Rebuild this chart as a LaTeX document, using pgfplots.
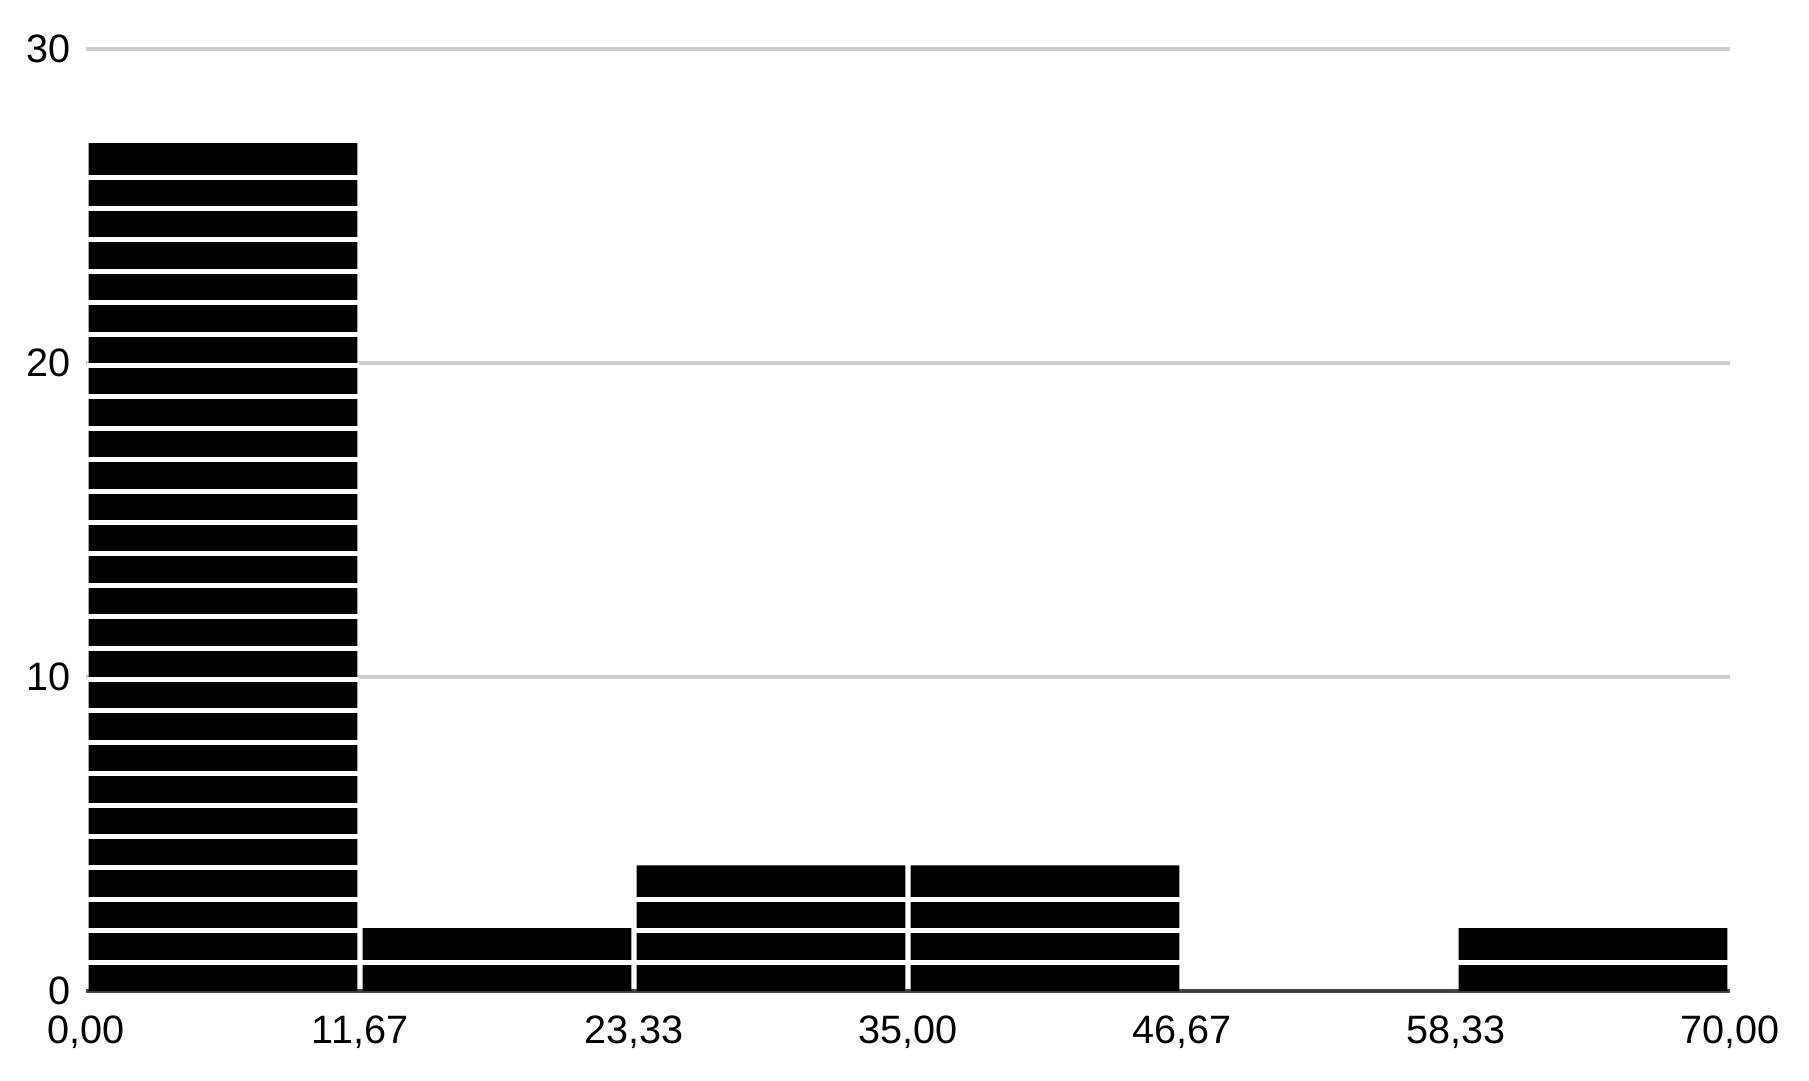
\documentclass[border=0pt]{standalone}
\usepackage{pgfplots}
\pgfplotsset{compat=1.18}
\usepackage{fontspec}
\setmainfont{Liberation Sans}
\definecolor{gridgray}{RGB}{204,204,204}
\definecolor{basegray}{RGB}{68,68,68}

\begin{document}
\begin{tikzpicture}
	\begin{axis}[
		scale only axis,
		width=411pt, height=235.5pt,
		xmin=0, xmax=70, ymin=0, ymax=30,
		axis line style={draw=none},
		major tick length=0pt,
		ytick={10,20,30},
		extra y ticks={0},
		extra y tick style={grid style={basegray, line width=1pt}},
		ymajorgrids,
		grid style={gridgray, line width=0.9pt},
		xtick={0,11.667,23.333,35,46.667,58.333,70},
		xticklabels={{0,00},{11,67},{23,33},{35,00},{46,67},{58,33},{70,00}},
		tick label style={font=\fontsize{9.9}{12}\selectfont},
		/pgf/number format/assume math mode=true,
		yticklabel style={xshift=-0.3pt},
		xticklabel style={yshift=-2.8pt},
		clip=false,
	]
	% histogram counts, one bar per bin (bin centres)
	\addplot[ybar, bar width=11.45, bar shift=0pt, fill=black, draw=none] coordinates
		{(5.833,27) (17.5,2) (29.167,4) (40.833,4) (52.5,0) (64.167,2)};
	% white gaps between the single counts
	\addplot[draw=none, mark=none,
		error bars/.cd, x dir=both, x fixed=5.8, error mark=none,
		error bar style={white, line width=1.25pt, yshift=-0.625pt}]
		coordinates {
		(5.833,1) (5.833,2) (5.833,3) (5.833,4) (5.833,5) (5.833,6) (5.833,7)
		(5.833,8) (5.833,9) (5.833,10) (5.833,11) (5.833,12) (5.833,13)
		(5.833,14) (5.833,15) (5.833,16) (5.833,17) (5.833,18) (5.833,19)
		(5.833,20) (5.833,21) (5.833,22) (5.833,23) (5.833,24) (5.833,25)
		(5.833,26)
		(17.5,1)
		(29.167,1) (29.167,2) (29.167,3)
		(40.833,1) (40.833,2) (40.833,3)
		(64.167,1)};
	\end{axis}
	\pgfresetboundingbox
	\path ([shift={(-21.5pt,-22.5pt)}]current axis.south west)
		rectangle ([shift={(430.75pt,247.75pt)}]current axis.south west);
\end{tikzpicture}
\end{document}
